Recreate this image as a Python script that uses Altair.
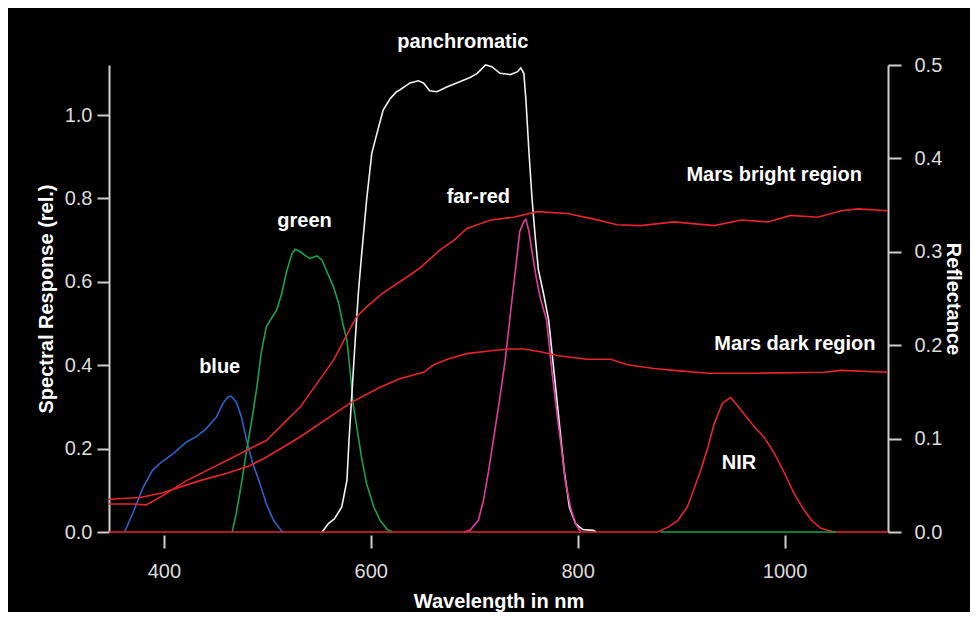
import altair as alt
import pandas as pd

# ---- data ----
blue_wl = [362, 370, 380, 389, 396, 409, 422, 431, 441, 451, 457, 462, 465, 470, 475, 480, 486, 493, 499, 506, 514, 516]
blue_val = [0.0, 0.045, 0.107, 0.148, 0.164, 0.188, 0.216, 0.228, 0.248, 0.276, 0.308, 0.324, 0.326, 0.312, 0.276, 0.22, 0.164, 0.116, 0.068, 0.028, 0.002, 0.0]

green_wl = [466, 470, 475, 480, 485, 490, 494, 499, 504, 509, 514, 519, 524, 527, 532, 536, 541, 548, 553, 557, 564, 569, 573, 577, 580, 583, 586, 591, 596, 603, 609, 616, 621]
green_val = [0.0, 0.044, 0.116, 0.196, 0.268, 0.348, 0.428, 0.492, 0.512, 0.532, 0.572, 0.628, 0.668, 0.678, 0.672, 0.664, 0.656, 0.662, 0.652, 0.628, 0.588, 0.548, 0.5, 0.46, 0.388, 0.308, 0.26, 0.18, 0.116, 0.06, 0.028, 0.006, 0.0]
green_base_wl = [880, 1050]
green_base_val = [0.0, 0.0]

pan_wl = [553, 559, 565, 572, 577, 579, 582, 585, 588, 591, 596, 601, 606, 612, 619, 625, 628, 638, 646, 651, 657, 664, 674, 686, 696, 703, 711, 717, 725, 735, 742, 745, 748, 750, 753, 756, 759, 762, 767, 772, 777, 782, 787, 792, 798, 805, 815, 818]
pan_val = [0.0, 0.02, 0.032, 0.06, 0.124, 0.22, 0.34, 0.46, 0.572, 0.66, 0.796, 0.908, 0.956, 1.012, 1.04, 1.056, 1.06, 1.077, 1.082, 1.077, 1.058, 1.056, 1.068, 1.08, 1.09, 1.10, 1.12, 1.116, 1.10, 1.097, 1.104, 1.113, 1.10, 1.036, 0.909, 0.797, 0.708, 0.63, 0.572, 0.508, 0.388, 0.268, 0.148, 0.06, 0.02, 0.006, 0.004, 0.0]

farred_wl = [690, 696, 704, 709, 714, 719, 724, 730, 735, 738, 741, 744, 748, 750, 753, 756, 760, 764, 770, 775, 780, 785, 788, 793, 798, 803]
farred_val = [0.0, 0.004, 0.028, 0.076, 0.148, 0.228, 0.308, 0.412, 0.524, 0.588, 0.652, 0.72, 0.745, 0.75, 0.72, 0.67, 0.61, 0.56, 0.508, 0.388, 0.284, 0.188, 0.124, 0.06, 0.02, 0.0]

nir_wl = [347, 877, 887, 897, 906, 912, 919, 926, 932, 940, 948, 958, 971, 980, 990, 1000, 1009, 1019, 1026, 1035, 1048, 1100]
nir_val = [0.0, 0.0, 0.011, 0.028, 0.06, 0.1, 0.148, 0.204, 0.26, 0.309, 0.323, 0.292, 0.252, 0.228, 0.189, 0.141, 0.093, 0.052, 0.028, 0.009, 0.0, 0.0]

bright_wl = [347, 370, 383, 399, 422, 467, 499, 532, 564, 586, 596, 612, 635, 648, 667, 680, 693, 716, 738, 761, 790, 816, 838, 861, 893, 932, 958, 984, 1006, 1032, 1055, 1071, 1100]
bright_refl = [0.030, 0.030, 0.029, 0.039, 0.055, 0.080, 0.098, 0.134, 0.184, 0.230, 0.241, 0.256, 0.273, 0.283, 0.302, 0.312, 0.325, 0.334, 0.337, 0.343, 0.341, 0.335, 0.329, 0.328, 0.332, 0.328, 0.334, 0.332, 0.339, 0.337, 0.344, 0.346, 0.344]

dark_wl = [347, 377, 399, 435, 461, 483, 499, 532, 580, 609, 628, 651, 661, 674, 693, 716, 735, 748, 764, 780, 809, 832, 848, 874, 893, 926, 974, 1038, 1055, 1100]
dark_refl = [0.035, 0.037, 0.042, 0.055, 0.063, 0.071, 0.080, 0.102, 0.138, 0.155, 0.164, 0.171, 0.179, 0.185, 0.191, 0.194, 0.196, 0.196, 0.193, 0.189, 0.185, 0.185, 0.179, 0.175, 0.173, 0.170, 0.170, 0.171, 0.173, 0.171]

label_text = ["blue", "green", "panchromatic", "far-red", "Mars bright region", "Mars dark region", "NIR"]
label_wl = [454, 536, 689, 704, 990, 1010, 956]
label_val = [0.395, 0.746, 1.176, 0.804, 0.857, 0.45, 0.165]

FONT = "Liberation Sans"
AXIS_COLOR = "#cfcfcf"
LABEL_COLOR = "#dcdcdc"

x_enc = alt.X(
    "wl:Q",
    scale=alt.Scale(domain=[347, 1100], nice=False, zero=False),
    axis=alt.Axis(
        values=[400, 600, 800, 1000], format="d", title="Wavelength in nm",
        domain=False, offset=3, tickSize=13, tickWidth=2, tickColor=AXIS_COLOR,
        labelPadding=13, titlePadding=10, grid=False,
    ),
)
y_left = alt.Y(
    "val:Q",
    scale=alt.Scale(domain=[0, 1.12], nice=False),
    axis=alt.Axis(
        orient="left", values=[0, 0.2, 0.4, 0.6, 0.8, 1.0], format=".1f",
        title="Spectral Response (rel.)", tickSize=12, tickWidth=2,
        tickColor=AXIS_COLOR, domainColor=AXIS_COLOR, domainWidth=2,
        labelPadding=5, titlePadding=8, grid=False,
    ),
)
y_right = alt.Y(
    "refl:Q",
    scale=alt.Scale(domain=[0, 0.5], nice=False),
    axis=alt.Axis(
        orient="right", values=[0, 0.1, 0.2, 0.3, 0.4, 0.5], format=".1f",
        title="Reflectance", tickSize=13, tickWidth=2,
        tickColor=AXIS_COLOR, domainColor=AXIS_COLOR, domainWidth=2,
        labelPadding=13, titlePadding=1, grid=False,
    ),
)


def curve(wl, val, color):
    df = pd.DataFrame({"wl": wl, "val": val})
    return alt.Chart(df).mark_line(color=color, strokeWidth=1.6).encode(x=x_enc, y=y_left)


labels_df = pd.DataFrame({"wl": label_wl, "val": label_val, "label": label_text})
labels = alt.Chart(labels_df).mark_text(
    color="white", font=FONT, fontSize=20, fontWeight="bold",
    align="center", baseline="middle",
).encode(x=x_enc, y=y_left, text="label:N")

left = alt.layer(
    curve(blue_wl, blue_val, "#2e64c8"),
    curve(green_wl, green_val, "#17a34d"),
    curve(pan_wl, pan_val, "#f2f2f2"),
    curve(farred_wl, farred_val, "#e23c9e"),
    curve(nir_wl, nir_val, "#e8252d"),
    curve(green_base_wl, green_base_val, "#17a34d"),
    labels,
)

mars_df = pd.concat([
    pd.DataFrame({"wl": bright_wl, "refl": bright_refl, "region": "bright"}),
    pd.DataFrame({"wl": dark_wl, "refl": dark_refl, "region": "dark"}),
])
right = alt.Chart(mars_df).mark_line(color="#e8252d", strokeWidth=1.6).encode(
    x=x_enc, y=y_right, detail="region:N"
)

chart = alt.layer(left, right).resolve_scale(y="independent").properties(
    width=779, height=467,
    autosize=alt.AutoSizeParams(type="none"),
    padding={"left": 101, "top": 57, "right": 82, "bottom": 80},
    background="black",
).configure_view(stroke=None).configure_axis(
    labelFont=FONT, titleFont=FONT, labelFontSize=20, titleFontSize=20,
    labelColor=LABEL_COLOR, titleColor="white", titleFontWeight="bold",
)

chart.save("out.html", embed_options={"renderer": "svg", "actions": False})
